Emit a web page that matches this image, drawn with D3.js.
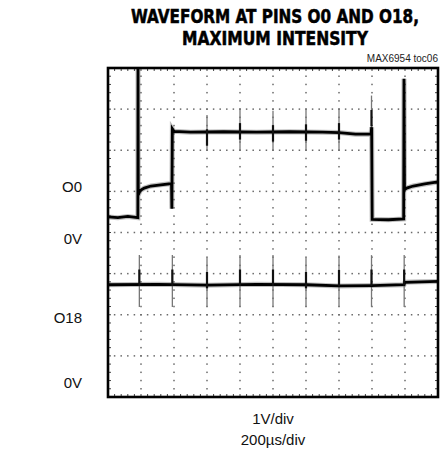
<!DOCTYPE html>
<html>
<head>
<meta charset="utf-8">
<script src="https://cdn.jsdelivr.net/npm/d3@7"></script>
<style>
  html, body { margin: 0; padding: 0; background: #fff; }
  svg { display: block; }
  .title { font-family: "Liberation Sans Narrow", "DejaVu Sans Condensed", "Liberation Sans", sans-serif; font-weight: bold; font-stretch: condensed; }
  .lbl { font-family: "Liberation Sans Narrow", "Liberation Sans", "DejaVu Sans Condensed", sans-serif; font-stretch: condensed; }
</style>
</head>
<body>
<svg id="chart" width="447" height="452"></svg>
<script>
// horizontal: 10 div x 200us, vertical: 8 div x 1V
const timeTicks = d3.range(0, 2001, 200);
const divTicks = d3.range(0, 9, 1);

// channel zero levels, in divisions from bottom
const o0Zero = 4.36;
const o18Zero = 0.34;

// trace O0 : [time us, volts]
const o0Trace = [
    [0, 0.02], [60, 0.0], [120, 0.03], [181, 0.0],
    [182, 3.9], [183.5, 0.55], [195, 0.66], [220, 0.72], [260, 0.77], [320, 0.8], [385, 0.83],
    [387, 0.22], [390, 2.16], [400, 2.1], [500, 2.08], [700, 2.09], [900, 2.08],
    [1100, 2.09], [1300, 2.08], [1400, 2.07], [1500, 2.03], [1594, 2.03],
    [1598, 2.2], [1601, -0.04], [1700, -0.05], [1792, -0.03],
    [1794, 3.38], [1797, 0.68], [1810, 0.72], [1850, 0.77], [1920, 0.82], [2000, 0.87]
];
// trace O18
const o18Trace = [
    [0, 2.39], [300, 2.4], [600, 2.38], [900, 2.4], [1200, 2.39], [1400, 2.36],
    [1600, 2.37], [1794, 2.39], [1800, 2.45], [1900, 2.46], [2000, 2.47]
];

// glitches: time, low V, high V
const o0Spikes = [
    [600, 1.62, 2.5], [800, 1.62, 2.65], [1000, 1.62, 2.6], [1200, 1.62, 2.62], [1400, 1.62, 2.65], [1597, 1.7, 2.97]
];
const o18Spikes = [
    [190, 1.85, 3.11], [390, 1.85, 3.11], [600, 1.85, 3.05], [800, 1.85, 3.11], [1000, 1.85, 3.11],
    [1200, 1.85, 3.05], [1400, 1.85, 3.1], [1597, 1.85, 3.11], [1795, 1.85, 3.11]
];

const titleLines = ["WAVEFORM AT PINS O0 AND O18,", "MAXIMUM INTENSITY"];
const titleWidths = [288, 186];

const leftLabels = [
    { text: "O0", y: 187 }, { text: "0V", y: 239 }, { text: "O18", y: 318 }, { text: "0V", y: 383 }
];

const svg = d3.select("#chart");
const L = 108, R = 438, T = 68, B = 397;

const x = d3.scaleLinear().domain([0, 2000]).range([L, R]);
const y = d3.scaleLinear().domain([0, 8]).range([B, T]);

// title, squeezed to the reference width
titleLines.forEach((s, i) => {
    let t = svg.append("text").attr("class", "title")
        .attr("text-anchor", "middle")
        .attr("font-size", 19)
        .attr("stroke", "#000").attr("stroke-width", 0.5)
        .text(s);
    let w = t.node().getComputedTextLength();
    let k = Math.min(1, titleWidths[i] / w);
    t.attr("transform", `translate(275,${23 + i * 22}) scale(${k},1)`);
});
svg.append("text").attr("class", "lbl")
    .attr("x", R).attr("y", 62).attr("text-anchor", "end")
    .attr("font-size", 10).attr("fill", "#222")
    .text("MAX6954 toc06");

// grid dots
const g = svg.append("g");
const dotColor = "#6a6a6a";
divTicks.slice(1, -1).forEach(d => {
    d3.range(0, 2000 + 1, 40).forEach(t => {
        g.append("rect").attr("x", x(t) - 0.75).attr("y", y(d) - 0.75)
            .attr("width", 1.5).attr("height", 1.5).attr("fill", dotColor);
    });
});
timeTicks.slice(1, -1).forEach(t => {
    d3.range(0, 8.01, 0.2).forEach(d => {
        g.append("rect").attr("x", x(t) - 0.75).attr("y", y(d) - 0.75)
            .attr("width", 1.5).attr("height", 1.5).attr("fill", dotColor);
    });
});
// border minor ticks
d3.range(0, 2001, 40).forEach(t => {
    g.append("line").attr("x1", x(t)).attr("x2", x(t)).attr("y1", T).attr("y2", T + 3)
        .attr("stroke", "#444").attr("stroke-width", 1);
    g.append("line").attr("x1", x(t)).attr("x2", x(t)).attr("y1", B).attr("y2", B - 3)
        .attr("stroke", "#444").attr("stroke-width", 1);
});
d3.range(0, 8.01, 0.2).forEach(d => {
    g.append("line").attr("x1", L).attr("x2", L + 3).attr("y1", y(d)).attr("y2", y(d))
        .attr("stroke", "#444").attr("stroke-width", 1);
    g.append("line").attr("x1", R).attr("x2", R - 3).attr("y1", y(d)).attr("y2", y(d))
        .attr("stroke", "#444").attr("stroke-width", 1);
});

// clip
svg.append("clipPath").attr("id", "clip").append("rect")
    .attr("x", L).attr("y", T).attr("width", R - L).attr("height", B - T);
const plot = svg.append("g").attr("clip-path", "url(#clip)");

function drawTrace(data, zero, spikes) {
    const line = d3.line().x(d => x(d[0])).y(d => y(zero + d[1]));
    plot.selectAll(null).data(spikes).enter().append("line")
        .attr("x1", d => x(d[0])).attr("x2", d => x(d[0]))
        .attr("y1", d => y(zero + d[1])).attr("y2", d => y(zero + d[2]))
        .attr("stroke", "#777").attr("stroke-width", 1.3);
    plot.append("path").datum(data).attr("d", line)
        .attr("fill", "none").attr("stroke", "#444").attr("stroke-width", 5).attr("stroke-opacity", 0.35);
    plot.append("path").datum(data).attr("d", line)
        .attr("fill", "none").attr("stroke", "#000").attr("stroke-width", 2.8);
    // thick part of each glitch
    plot.selectAll(null).data(spikes).enter().append("line")
        .attr("x1", d => x(d[0])).attr("x2", d => x(d[0]))
        .attr("y1", d => y(zero + d[2] - 0.35)).attr("y2", d => y(zero + d[2] - 0.75))
        .attr("stroke", "#111").attr("stroke-width", 2.2);
}
drawTrace(o18Trace, o18Zero, o18Spikes);
drawTrace(o0Trace, o0Zero, o0Spikes);

// frame
svg.append("rect").attr("x", L).attr("y", T).attr("width", R - L).attr("height", B - T)
    .attr("fill", "none").attr("stroke", "#000").attr("stroke-width", 2.6);

// left labels
svg.selectAll(".side").data(leftLabels).enter().append("text")
    .attr("class", "lbl side")
    .attr("x", 82).attr("y", d => d.y + 5).attr("text-anchor", "end")
    .attr("font-size", 15).attr("fill", "#111")
    .text(d => d.text);

// bottom labels
svg.append("text").attr("class", "lbl").attr("x", 273).attr("y", 424)
    .attr("text-anchor", "middle").attr("font-size", 15).attr("fill", "#111").text("1V/div");
svg.append("text").attr("class", "lbl").attr("x", 273).attr("y", 445)
    .attr("text-anchor", "middle").attr("font-size", 15).attr("fill", "#111").text("200\u00b5s/div");
</script>
</body>
</html>
